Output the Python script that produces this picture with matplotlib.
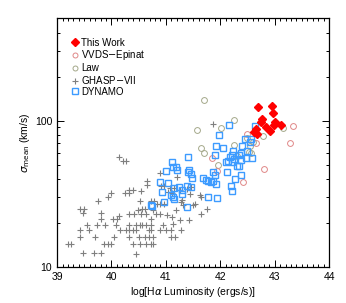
import numpy as np
import matplotlib
matplotlib.use('Agg')
import matplotlib.pyplot as plt
from matplotlib.ticker import FixedLocator, MultipleLocator, NullFormatter

plt.rcParams['font.family'] = ['Liberation Sans', 'DejaVu Sans']
plt.rcParams['mathtext.fontset'] = 'dejavusans'

# This Work: log L(Halpha), sigma_mean (km/s)
work_x = [42.69, 42.96, 42.97, 42.77, 42.74, 42.85, 42.91, 42.66, 42.62, 42.68, 43.01, 42.98, 43.11]
work_y = [124.5, 126, 113, 102, 98.5, 91, 85, 88, 84, 81, 98.5, 93, 93]

# VVDS-Epinat
vvds_x = [42.50, 42.66, 42.81, 42.42, 43.33, 43.28, 41.94, 41.84]
vvds_y = [80.7, 70.8, 47, 37.8, 92, 70, 45.5, 55.5]

# Law
law_x = [41.71, 41.58, 42.01, 42.25, 41.65, 41.71, 41.96, 42.26, 42.31, 42.78, 43.15,
         42.55, 42.57, 42.53, 42.50, 42.60]
law_y = [138, 86, 89, 100.5, 65.5, 60, 50, 68, 57, 78.8, 89.6,
         67.3, 60.5, 61.5, 76, 71]

# GHASP-VII (log sigma listed)
ghasp_x = [40.14, 40.00, 39.94, 39.75, 39.43, 39.50, 39.47, 39.80, 39.81, 40.02, 40.10, 40.14,
           39.55, 39.74, 39.89, 40.09, 39.43, 39.59, 40.16, 39.42, 39.69, 40.05, 39.20, 39.26,
           39.86, 39.94, 40.00, 39.47, 39.68, 39.80,
           40.21, 40.27, 40.89, 40.66, 40.66, 40.40, 40.32, 40.54, 40.25, 40.32, 40.91, 40.97,
           41.07, 41.15, 41.26, 41.04, 41.12, 40.52, 40.72, 40.78, 41.27, 40.83, 40.89, 40.96,
           40.57, 40.61, 40.49, 40.77, 41.19, 40.32, 40.42, 40.54, 40.64, 40.81, 40.89, 41.02,
           41.12, 40.73, 41.26, 40.32, 40.45, 40.52, 40.57, 40.63, 40.73, 40.95, 41.13, 40.27,
           40.32, 40.40, 40.45, 40.69, 40.73, 40.89, 41.00, 41.10, 41.27, 40.32, 40.51, 40.61,
           40.69, 40.76, 41.10, 40.40, 40.53, 40.64, 40.72, 40.76, 40.45,
           41.21, 41.47, 41.39, 41.44, 41.62, 41.65, 41.50, 41.32, 41.76, 41.64, 41.43, 41.16,
           41.53, 41.30, 41.87]
ghasp_logy = [1.755, 1.503, 1.476, 1.451, 1.397, 1.397, 1.367, 1.367, 1.329, 1.329, 1.329, 1.345,
              1.290, 1.290, 1.290, 1.290, 1.250, 1.250, 1.250, 1.204, 1.204, 1.204, 1.154, 1.154,
              1.154, 1.154, 1.154, 1.095, 1.095, 1.095,
              1.726, 1.726, 1.642, 1.590, 1.560, 1.526, 1.526, 1.520, 1.503, 1.503, 1.556, 1.556,
              1.537, 1.537, 1.526, 1.510, 1.505, 1.454, 1.454, 1.454, 1.447, 1.431, 1.431, 1.431,
              1.397, 1.397, 1.386, 1.386, 1.386, 1.363, 1.363, 1.363, 1.363, 1.363, 1.363, 1.352,
              1.340, 1.329, 1.322, 1.290, 1.290, 1.290, 1.290, 1.290, 1.290, 1.290, 1.295, 1.250,
              1.250, 1.250, 1.250, 1.250, 1.250, 1.250, 1.250, 1.250, 1.250, 1.204, 1.204, 1.204,
              1.204, 1.204, 1.204, 1.154, 1.154, 1.154, 1.154, 1.154, 1.091,
              1.612, 1.544, 1.533, 1.499, 1.492, 1.476, 1.424, 1.424, 1.397, 1.363, 1.324, 1.204,
              1.430, 1.455, 1.980]
ghasp_y = [10 ** v for v in ghasp_logy]

# DYNAMO
dyn_x = [42.16, 41.97, 42.45, 42.57, 42.55, 41.93, 42.05, 42.24, 42.49, 42.39, 42.21, 42.17,
         41.90, 42.34, 42.14, 42.25, 41.40, 41.12, 42.10, 42.22, 42.39, 42.47, 42.59, 41.13,
         41.19, 41.21, 41.43, 41.40, 41.47, 41.48, 41.00, 41.86, 41.90, 42.13, 42.30, 42.34,
         42.27, 42.39, 41.68, 41.73, 41.78, 41.83, 41.87, 41.92, 42.20, 42.22, 40.89, 41.04,
         41.24, 41.38, 41.47, 41.15, 41.29, 41.29, 40.92, 41.09, 41.13, 41.15, 40.97, 40.72,
         40.75, 41.78, 41.94, 41.38, 42.63, 42.40]
dyn_y = [92.9, 80, 75.5, 75.5, 71, 67.3, 64.9, 62.2, 62.2, 60.6, 58.5, 56.1,
         58.1, 58.1, 53.3, 54.6, 56.3, 51.9, 51.9, 51.9, 53.7, 55.4, 55.2, 48,
         48, 46.3, 46, 44.8, 43.2, 40.3, 45, 44.8, 42.5, 44.8, 48.7, 48.7,
         39.9, 42.5, 40.5, 39.5, 38.5, 37.9, 38.7, 36.7, 36, 33.3, 37.9, 37.3,
         35.4, 35.6, 35.1, 34.5, 33.8, 31.6, 32.7, 30.8, 30, 29.2, 28, 26.6,
         26.3, 29.9, 29.5, 25.6, 92, 67.3]

fig = plt.figure(figsize=(3.46, 3.03), dpi=100)
ax = fig.add_axes([0.165, 0.119, 0.786, 0.820])

ax.plot(ghasp_x, ghasp_y, '+', color='#7f7f7f', ms=4.5, mew=0.8, ls='none', label='GHASP$-$VII')
ax.plot(law_x, law_y, 'o', mfc='none', mec='#a4a88a', ms=4.2, mew=0.7, ls='none', label='Law')
ax.plot(vvds_x, vvds_y, 'o', mfc='none', mec='#e08888', ms=4.2, mew=0.7, ls='none', label='VVDS$-$Epinat')
ax.plot(dyn_x, dyn_y, 's', mfc='none', mec='#3d9bff', ms=4.6, mew=1.0, ls='none', label='DYNAMO')
ax.plot(work_x, work_y, 'D', color='#ff0000', ms=4.5, ls='none', label='This Work')

ax.set_yscale('log')
ax.set_xlim(39, 44)
ax.set_ylim(10, 500)

ax.xaxis.set_major_locator(MultipleLocator(1))
ax.xaxis.set_minor_locator(MultipleLocator(0.1))
ax.yaxis.set_major_locator(FixedLocator([10, 100]))
ax.yaxis.set_minor_locator(FixedLocator([20, 30, 40, 50, 60, 70, 80, 90, 200, 300, 400]))
ax.yaxis.set_minor_formatter(NullFormatter())
ax.set_yticklabels(['10', '100'])
ax.tick_params(which='both', direction='in', top=True, right=True, labelsize=7.5, width=0.7)
ax.tick_params(which='major', length=5)
ax.tick_params(which='minor', length=2.5)
for s in ax.spines.values():
    s.set_linewidth(0.9)

ax.set_xlabel(r'log[H$\alpha$ Luminosity (ergs/s)]', fontsize=7.5, labelpad=2)
ax.set_ylabel(r'$\sigma_{\rm mean}$ (km/s)', fontsize=7.5, labelpad=2)

h, l = ax.get_legend_handles_labels()
order = [4, 2, 1, 0, 3]
leg = ax.legend([h[i] for i in order], [l[i] for i in order], loc='upper left', frameon=False,
                fontsize=7, handletextpad=0.15, labelspacing=0.08, handlelength=0.9,
                borderaxespad=0.3, bbox_to_anchor=(0.025, 0.95), markerscale=0.85)

fig.savefig('out.png', dpi=100)
